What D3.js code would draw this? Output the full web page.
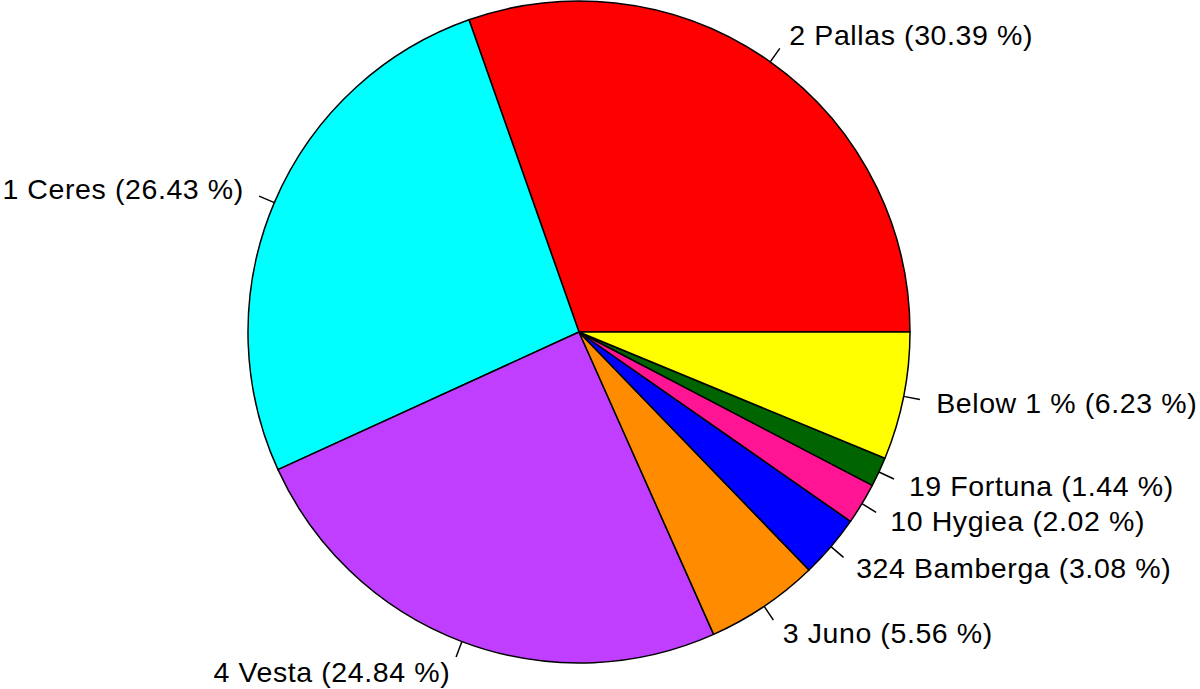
<!DOCTYPE html>
<html>
<head>
<meta charset="utf-8">
<script src="https://cdn.jsdelivr.net/npm/d3@7"></script>
<style>
  body { margin: 0; background: #fff; }
  svg { display: block; }
  text { font-family: "Liberation Sans", Arial, Helvetica, sans-serif; }
</style>
</head>
<body>
<div id="chart"></div>
<script>
var width = 1200,
    height = 689,
    cx = 579,
    cy = 332,
    radius = 331;

// slices, counter-clockwise from 3 o'clock (R pie order)
var names = ["2 Pallas", "1 Ceres", "4 Vesta", "3 Juno", "324 Bamberga", "10 Hygiea", "19 Fortuna", "Below 1 %"];
var values = [30.39, 26.43, 24.84, 5.56, 3.08, 2.02, 1.44, 6.23];
var colors = ["#ff0000", "#00ffff", "#bf3eff", "#ff8c00", "#0000ff", "#ff1493", "#006400", "#ffff00"];

var slices = names.map(function(n, i) {
    return {name: n, value: values[i], color: colors[i]};
});

var svg = d3.select("#chart").append("svg")
    .attr("width", width)
    .attr("height", height);

var g = svg.append("g").attr("transform", "translate(" + cx + "," + cy + ")");

// d3 angles go clockwise from 12 o'clock; R pie goes counter-clockwise from 3 o'clock
var pie = d3.pie().sort(null).value(function(d) { return d.value; })
    .startAngle(Math.PI / 2).endAngle(Math.PI / 2 - 2 * Math.PI);

var arc = d3.arc().innerRadius(0).outerRadius(radius);

var arcs = pie(slices);

g.selectAll("path.slice").data(arcs).enter().append("path")
    .attr("class", "slice")
    .attr("d", arc)
    .attr("fill", function(d) { return d.data.color; })
    .attr("stroke", "#000")
    .attr("stroke-width", 1.5)
    .attr("stroke-linejoin", "round");

var mid = function(d) { return (d.startAngle + d.endAngle) / 2; };

g.selectAll("line.tick").data(arcs).enter().append("line")
    .attr("class", "tick")
    .attr("x1", function(d) { return radius * Math.sin(mid(d)); })
    .attr("y1", function(d) { return -radius * Math.cos(mid(d)); })
    .attr("x2", function(d) { return 1.05 * radius * Math.sin(mid(d)); })
    .attr("y2", function(d) { return -1.05 * radius * Math.cos(mid(d)); })
    .attr("stroke", "#000")
    .attr("stroke-width", 1.5);

g.selectAll("text.lbl").data(arcs).enter().append("text")
    .attr("class", "lbl")
    .attr("x", function(d) { return 1.1 * radius * Math.sin(mid(d)); })
    .attr("y", function(d) { return -1.1 * radius * Math.cos(mid(d)); })
    .attr("dy", "0.34em")
    .attr("text-anchor", function(d) { return Math.sin(mid(d)) < 0 ? "end" : "start"; })
    .attr("font-size", 28.5)
    .attr("letter-spacing", 0.6)
    .attr("fill", "#000")
    .text(function(d) { return d.data.name + " (" + d3.format(".2f")(d.data.value) + " %)"; });
</script>
</body>
</html>
